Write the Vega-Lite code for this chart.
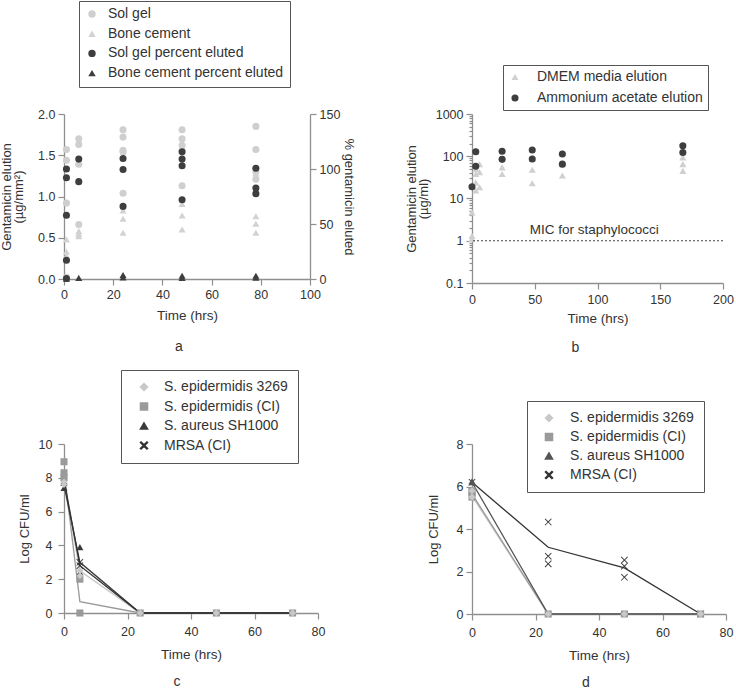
{
  "$schema": "https://vega.github.io/schema/vega-lite/v6.json",
  "background": "white",
  "padding": {"left": 0, "top": 0, "right": 15, "bottom": 60},
  "config": {
    "font": "Liberation Sans",
    "view": {"stroke": null},
    "axis": {
      "grid": false,
      "domainColor": "#8f8f8f",
      "tickColor": "#8f8f8f",
      "domainWidth": 1.3,
      "tickWidth": 1.2,
      "tickSize": 6,
      "labelFontSize": 12.5,
      "labelColor": "#333333",
      "labelPadding": 3,
      "labelFlush": false,
      "labelOverlap": false,
      "titleFontSize": 13.5,
      "titleFontWeight": "normal",
      "titleColor": "#333333",
      "titleLineHeight": 12
    },
    "legend": {
      "labelFontSize": 14,
      "labelColor": "#333333",
      "strokeColor": "#555555",
      "fillColor": "white",
      "rowPadding": 5.5,
      "labelLimit": 300
    },
    "title": {"fontSize": 14, "fontWeight": "normal", "color": "#333333"}
  },
  "datasets": {
    "aLeft": [
      {"t": 1, "v": 1.57, "s": "Sol gel"}, {"t": 1, "v": 1.44, "s": "Sol gel"}, {"t": 1, "v": 0.92, "s": "Sol gel"}, {"t": 1, "v": 0.02, "s": "Sol gel"},
      {"t": 6, "v": 1.70, "s": "Sol gel"}, {"t": 6, "v": 1.63, "s": "Sol gel"}, {"t": 6, "v": 1.39, "s": "Sol gel"}, {"t": 6, "v": 0.66, "s": "Sol gel"},
      {"t": 24, "v": 1.81, "s": "Sol gel"}, {"t": 24, "v": 1.72, "s": "Sol gel"}, {"t": 24, "v": 1.56, "s": "Sol gel"}, {"t": 24, "v": 1.54, "s": "Sol gel"}, {"t": 24, "v": 1.04, "s": "Sol gel"},
      {"t": 48, "v": 1.81, "s": "Sol gel"}, {"t": 48, "v": 1.70, "s": "Sol gel"}, {"t": 48, "v": 1.62, "s": "Sol gel"}, {"t": 48, "v": 1.13, "s": "Sol gel"},
      {"t": 78, "v": 1.85, "s": "Sol gel"}, {"t": 78, "v": 1.57, "s": "Sol gel"}, {"t": 78, "v": 1.30, "s": "Sol gel"}, {"t": 78, "v": 1.21, "s": "Sol gel"},
      {"t": 1, "v": 0.48, "s": "Bone cement"}, {"t": 1, "v": 0.33, "s": "Bone cement"}, {"t": 1, "v": 0.28, "s": "Bone cement"}, {"t": 1, "v": 0.02, "s": "Bone cement"},
      {"t": 6, "v": 0.58, "s": "Bone cement"}, {"t": 6, "v": 0.55, "s": "Bone cement"}, {"t": 6, "v": 0.52, "s": "Bone cement"},
      {"t": 24, "v": 0.83, "s": "Bone cement"}, {"t": 24, "v": 0.73, "s": "Bone cement"}, {"t": 24, "v": 0.56, "s": "Bone cement"},
      {"t": 48, "v": 1.60, "s": "Bone cement"}, {"t": 48, "v": 0.91, "s": "Bone cement"}, {"t": 48, "v": 0.77, "s": "Bone cement"}, {"t": 48, "v": 0.60, "s": "Bone cement"},
      {"t": 78, "v": 1.28, "s": "Bone cement"}, {"t": 78, "v": 0.76, "s": "Bone cement"}, {"t": 78, "v": 0.67, "s": "Bone cement"}, {"t": 78, "v": 0.56, "s": "Bone cement"}
    ],
    "aRight": [
      {"t": 1, "v": 100, "s": "Sol gel percent eluted"}, {"t": 1, "v": 92, "s": "Sol gel percent eluted"}, {"t": 1, "v": 58, "s": "Sol gel percent eluted"}, {"t": 1, "v": 17, "s": "Sol gel percent eluted"}, {"t": 1, "v": 0.5, "s": "Sol gel percent eluted"},
      {"t": 6, "v": 109, "s": "Sol gel percent eluted"}, {"t": 6, "v": 88.5, "s": "Sol gel percent eluted"},
      {"t": 24, "v": 109.5, "s": "Sol gel percent eluted"}, {"t": 24, "v": 99.5, "s": "Sol gel percent eluted"}, {"t": 24, "v": 66, "s": "Sol gel percent eluted"},
      {"t": 48, "v": 115.6, "s": "Sol gel percent eluted"}, {"t": 48, "v": 109, "s": "Sol gel percent eluted"}, {"t": 48, "v": 103, "s": "Sol gel percent eluted"}, {"t": 48, "v": 72, "s": "Sol gel percent eluted"},
      {"t": 78, "v": 100.7, "s": "Sol gel percent eluted"}, {"t": 78, "v": 82.7, "s": "Sol gel percent eluted"}, {"t": 78, "v": 77.6, "s": "Sol gel percent eluted"},
      {"t": 1, "v": 0.3, "s": "Bone cement percent eluted"}, {"t": 6, "v": 1, "s": "Bone cement percent eluted"},
      {"t": 24, "v": 3.6, "s": "Bone cement percent eluted"}, {"t": 24, "v": 1.5, "s": "Bone cement percent eluted"},
      {"t": 48, "v": 3, "s": "Bone cement percent eluted"}, {"t": 48, "v": 1, "s": "Bone cement percent eluted"},
      {"t": 78, "v": 3, "s": "Bone cement percent eluted"}, {"t": 78, "v": 1.2, "s": "Bone cement percent eluted"}
    ],
    "bPts": [
      {"t": 0, "v": 4.7, "s": "DMEM media elution"}, {"t": 0, "v": 1.3, "s": "DMEM media elution"}, {"t": 0, "v": 1.1, "s": "DMEM media elution"},
      {"t": 3, "v": 50, "s": "DMEM media elution"}, {"t": 3, "v": 38, "s": "DMEM media elution"}, {"t": 3, "v": 24, "s": "DMEM media elution"}, {"t": 3, "v": 15.6, "s": "DMEM media elution"},
      {"t": 6, "v": 65, "s": "DMEM media elution"}, {"t": 6, "v": 42, "s": "DMEM media elution"}, {"t": 6, "v": 18.5, "s": "DMEM media elution"},
      {"t": 24, "v": 54.7, "s": "DMEM media elution"}, {"t": 24, "v": 38, "s": "DMEM media elution"},
      {"t": 48, "v": 89, "s": "DMEM media elution"}, {"t": 48, "v": 48, "s": "DMEM media elution"}, {"t": 48, "v": 23, "s": "DMEM media elution"},
      {"t": 72, "v": 65, "s": "DMEM media elution"}, {"t": 72, "v": 35, "s": "DMEM media elution"},
      {"t": 168, "v": 94, "s": "DMEM media elution"}, {"t": 168, "v": 65, "s": "DMEM media elution"}, {"t": 168, "v": 45, "s": "DMEM media elution"},
      {"t": 0, "v": 19, "s": "Ammonium acetate elution"},
      {"t": 3, "v": 128, "s": "Ammonium acetate elution"}, {"t": 3, "v": 58, "s": "Ammonium acetate elution"},
      {"t": 24, "v": 131, "s": "Ammonium acetate elution"}, {"t": 24, "v": 84.5, "s": "Ammonium acetate elution"},
      {"t": 48, "v": 141, "s": "Ammonium acetate elution"}, {"t": 48, "v": 86, "s": "Ammonium acetate elution"},
      {"t": 72, "v": 113, "s": "Ammonium acetate elution"}, {"t": 72, "v": 65, "s": "Ammonium acetate elution"},
      {"t": 168, "v": 178, "s": "Ammonium acetate elution"}, {"t": 168, "v": 123, "s": "Ammonium acetate elution"}
    ],
    "cLines": [
      {"t": 0, "m": 7.7, "s": "S. epidermidis 3269"}, {"t": 5, "m": 2.5, "s": "S. epidermidis 3269"}, {"t": 24, "m": 0, "s": "S. epidermidis 3269"}, {"t": 48, "m": 0, "s": "S. epidermidis 3269"}, {"t": 72, "m": 0, "s": "S. epidermidis 3269"},
      {"t": 0, "m": 8.4, "s": "S. epidermidis (CI)"}, {"t": 5, "m": 0.67, "s": "S. epidermidis (CI)"}, {"t": 24, "m": 0, "s": "S. epidermidis (CI)"}, {"t": 48, "m": 0, "s": "S. epidermidis (CI)"}, {"t": 72, "m": 0, "s": "S. epidermidis (CI)"},
      {"t": 0, "m": 7.6, "s": "S. aureus SH1000"}, {"t": 5, "m": 3.0, "s": "S. aureus SH1000"}, {"t": 24, "m": 0, "s": "S. aureus SH1000"}, {"t": 48, "m": 0, "s": "S. aureus SH1000"}, {"t": 72, "m": 0, "s": "S. aureus SH1000"},
      {"t": 0, "m": 7.9, "s": "MRSA (CI)"}, {"t": 5, "m": 2.8, "s": "MRSA (CI)"}, {"t": 24, "m": 0, "s": "MRSA (CI)"}, {"t": 48, "m": 0, "s": "MRSA (CI)"}, {"t": 72, "m": 0, "s": "MRSA (CI)"}
    ],
    "cPts": [
      {"t": 0, "v": 7.8, "s": "MRSA (CI)"}, {"t": 5, "v": 3.0, "s": "MRSA (CI)"}, {"t": 5, "v": 2.8, "s": "MRSA (CI)"},
      {"t": 0, "v": 7.4, "s": "S. aureus SH1000"}, {"t": 0, "v": 7.7, "s": "S. aureus SH1000"}, {"t": 5, "v": 3.9, "s": "S. aureus SH1000"}, {"t": 5, "v": 2.4, "s": "S. aureus SH1000"},
      {"t": 0, "v": 8.95, "s": "S. epidermidis (CI)"}, {"t": 0, "v": 8.3, "s": "S. epidermidis (CI)"}, {"t": 0, "v": 8.0, "s": "S. epidermidis (CI)"}, {"t": 5, "v": 2.0, "s": "S. epidermidis (CI)"}, {"t": 5, "v": 0, "s": "S. epidermidis (CI)"}, {"t": 24, "v": 0, "s": "S. epidermidis (CI)"}, {"t": 48, "v": 0, "s": "S. epidermidis (CI)"}, {"t": 72, "v": 0, "s": "S. epidermidis (CI)"},
      {"t": 0, "v": 7.6, "s": "S. epidermidis 3269"}, {"t": 0, "v": 7.75, "s": "S. epidermidis 3269"}, {"t": 5, "v": 2.5, "s": "S. epidermidis 3269"}, {"t": 5, "v": 2.2, "s": "S. epidermidis 3269"}, {"t": 24, "v": 0, "s": "S. epidermidis 3269"}, {"t": 48, "v": 0, "s": "S. epidermidis 3269"}, {"t": 72, "v": 0, "s": "S. epidermidis 3269"}
    ],
    "dLines": [
      {"t": 0, "m": 5.55, "s": "S. epidermidis 3269"}, {"t": 24, "m": 0, "s": "S. epidermidis 3269"}, {"t": 48, "m": 0, "s": "S. epidermidis 3269"}, {"t": 72, "m": 0, "s": "S. epidermidis 3269"},
      {"t": 0, "m": 5.65, "s": "S. epidermidis (CI)"}, {"t": 24, "m": 0, "s": "S. epidermidis (CI)"}, {"t": 48, "m": 0, "s": "S. epidermidis (CI)"}, {"t": 72, "m": 0, "s": "S. epidermidis (CI)"},
      {"t": 0, "m": 6.2, "s": "S. aureus SH1000"}, {"t": 24, "m": 0, "s": "S. aureus SH1000"}, {"t": 48, "m": 0, "s": "S. aureus SH1000"}, {"t": 72, "m": 0, "s": "S. aureus SH1000"},
      {"t": 0, "m": 6.2, "s": "MRSA (CI)"}, {"t": 24, "m": 3.14, "s": "MRSA (CI)"}, {"t": 48, "m": 2.17, "s": "MRSA (CI)"}, {"t": 72, "m": 0, "s": "MRSA (CI)"}
    ],
    "dPts": [
      {"t": 0, "v": 6.2, "s": "MRSA (CI)"}, {"t": 24, "v": 4.33, "s": "MRSA (CI)"}, {"t": 24, "v": 2.72, "s": "MRSA (CI)"}, {"t": 24, "v": 2.36, "s": "MRSA (CI)"}, {"t": 48, "v": 2.54, "s": "MRSA (CI)"}, {"t": 48, "v": 2.25, "s": "MRSA (CI)"}, {"t": 48, "v": 1.73, "s": "MRSA (CI)"}, {"t": 72, "v": 0, "s": "MRSA (CI)"},
      {"t": 0, "v": 6.2, "s": "S. aureus SH1000"}, {"t": 0, "v": 6.25, "s": "S. aureus SH1000"},
      {"t": 0, "v": 5.7, "s": "S. epidermidis (CI)"}, {"t": 0, "v": 5.5, "s": "S. epidermidis (CI)"}, {"t": 0, "v": 5.8, "s": "S. epidermidis (CI)"}, {"t": 24, "v": 0, "s": "S. epidermidis (CI)"}, {"t": 48, "v": 0, "s": "S. epidermidis (CI)"}, {"t": 72, "v": 0, "s": "S. epidermidis (CI)"},
      {"t": 0, "v": 5.5, "s": "S. epidermidis 3269"}, {"t": 0, "v": 5.8, "s": "S. epidermidis 3269"}, {"t": 24, "v": 0, "s": "S. epidermidis 3269"}, {"t": 48, "v": 0, "s": "S. epidermidis 3269"}, {"t": 72, "v": 0, "s": "S. epidermidis 3269"}
    ]
  },
  "bounds": "flush",
  "columns": 2,
  "spacing": {"row": 161, "column": 154},
  "resolve": {
    "scale": {"color": "independent", "shape": "independent", "x": "independent", "y": "independent"},
    "legend": {"color": "independent", "shape": "independent"}
  },
  "concat": [
    {
      "width": 246,
      "height": 165,
      "title": {"text": "a", "orient": "bottom", "offset": 18, "dx": -8},
      "layer": [
        {
          "data": {"name": "aLeft"},
          "mark": {"type": "point", "filled": true, "opacity": 1, "size": 50},
          "encoding": {
            "x": {"field": "t", "type": "quantitative", "scale": {"domain": [0, 100], "nice": false},
                  "axis": {"values": [0, 20, 40, 60, 80, 100], "title": "Time (hrs)", "labelPadding": 3, "titlePadding": 8}},
            "y": {"field": "v", "type": "quantitative", "scale": {"domain": [0, 2], "nice": false},
                  "axis": {"values": [0, 0.5, 1, 1.5, 2], "format": ".1f", "title": ["Gentamicin elution", "(µg/mm²)"], "titleFontSize": 13, "titlePadding": 12}},
            "color": {"field": "s", "type": "nominal",
                      "scale": {"domain": ["Sol gel", "Bone cement", "Sol gel percent eluted", "Bone cement percent eluted"], "range": ["#cfcfcf", "#d2d2d2", "#3e3e3e", "#3e3e3e"]},
                      "legend": {"title": null, "orient": "none", "legendX": 15, "legendY": -113, "padding": 6, "symbolSize": 55, "labelOffset": 9, "rowPadding": 5.7}},
            "shape": {"field": "s", "type": "nominal",
                      "scale": {"domain": ["Sol gel", "Bone cement", "Sol gel percent eluted", "Bone cement percent eluted"], "range": ["circle", "triangle-up", "circle", "triangle-up"]},
                      "legend": {"title": null, "orient": "none", "legendX": 15, "legendY": -113, "padding": 6, "symbolSize": 55, "labelOffset": 9, "rowPadding": 5.7}}
          }
        },
        {
          "data": {"name": "aRight"},
          "mark": {"type": "point", "filled": true, "opacity": 1, "size": 50},
          "encoding": {
            "x": {"field": "t", "type": "quantitative", "scale": {"domain": [0, 100], "nice": false}},
            "y": {"field": "v", "type": "quantitative", "scale": {"domain": [0, 150], "nice": false},
                  "axis": {"orient": "right", "values": [0, 50, 100, 150], "title": "% gentamicin eluted", "titleFontSize": 13, "titlePadding": 2}},
            "color": {"field": "s", "type": "nominal"},
            "shape": {"field": "s", "type": "nominal"}
          }
        }
      ],
      "resolve": {"scale": {"y": "independent"}}
    },
    {
      "width": 251,
      "height": 169,
      "title": {"text": "b", "orient": "bottom", "offset": 16, "dx": -22},
      "layer": [
        {
          "data": {"name": "bPts"},
          "mark": {"type": "point", "filled": true, "opacity": 1, "size": 50},
          "encoding": {
            "x": {"field": "t", "type": "quantitative", "scale": {"domain": [0, 200], "nice": false},
                  "axis": {"values": [0, 50, 100, 150, 200], "title": "Time (hrs)", "labelPadding": 4, "titlePadding": 6}},
            "y": {"field": "v", "type": "quantitative", "scale": {"type": "log", "domain": [0.1, 1000], "nice": false},
                  "axis": {"values": [0.1, 0.2, 0.3, 0.4, 0.5, 0.6, 0.7, 0.8, 0.9, 1, 2, 3, 4, 5, 6, 7, 8, 9, 10, 20, 30, 40, 50, 60, 70, 80, 90, 100, 200, 300, 400, 500, 600, 700, 800, 900, 1000],
                           "labelExpr": "indexof([0.1, 1, 10, 100, 1000], datum.value) >= 0 ? (datum.value == 0.1 ? '0.1' : format(datum.value, 'd')) : ''",
                           "tickSize": {"condition": {"test": "indexof([0.1, 1, 10, 100, 1000], datum.value) >= 0", "value": 6}, "value": 3},
                           "title": ["Gentamicin elution", "(µg/ml)"], "titleFontSize": 13, "titlePadding": 5}},
            "color": {"field": "s", "type": "nominal",
                      "scale": {"domain": ["DMEM media elution", "Ammonium acetate elution"], "range": ["#d0d0d0", "#3e3e3e"]},
                      "legend": {"title": null, "orient": "none", "legendX": 31, "legendY": -49, "padding": 5, "symbolSize": 50, "labelOffset": 15, "rowPadding": 7}},
            "shape": {"field": "s", "type": "nominal",
                      "scale": {"domain": ["DMEM media elution", "Ammonium acetate elution"], "range": ["triangle-up", "circle"]},
                      "legend": {"title": null, "orient": "none", "legendX": 31, "legendY": -49, "padding": 5, "symbolSize": 50, "labelOffset": 15, "rowPadding": 7}}
          }
        },
        {
          "data": {"values": [{"mic": 1}]},
          "mark": {"type": "rule", "strokeDash": [2, 2], "color": "#444444", "strokeWidth": 1},
          "encoding": {"y": {"field": "mic", "type": "quantitative", "scale": {"type": "log"}}}
        },
        {
          "data": {"values": [{"mic": 1, "label": "MIC for staphylococci"}]},
          "mark": {"type": "text", "align": "left", "baseline": "bottom", "fontSize": 13.5, "color": "#333333", "dy": -4},
          "encoding": {
            "x": {"datum": 46, "type": "quantitative"},
            "y": {"field": "mic", "type": "quantitative", "scale": {"type": "log"}},
            "text": {"field": "label"}
          }
        }
      ]
    },
    {
      "width": 254,
      "height": 169,
      "title": {"text": "c", "orient": "bottom", "offset": 14, "dx": -14},
      "layer": [
        {
          "data": {"name": "cLines"},
          "mark": {"type": "line", "strokeWidth": 1.3},
          "encoding": {
            "x": {"field": "t", "type": "quantitative", "scale": {"domain": [0, 80], "nice": false},
                  "axis": {"values": [0, 20, 40, 60, 80], "title": "Time (hrs)", "labelPadding": 6, "titlePadding": 10}},
            "y": {"field": "m", "type": "quantitative", "scale": {"domain": [0, 10], "nice": false},
                  "axis": {"values": [0, 2, 4, 6, 8, 10], "tickCount": 6, "labelOverlap": false, "title": "Log CFU/ml", "titleFontSize": 13, "labelPadding": 6, "titlePadding": 7}},
            "color": {"field": "s", "type": "nominal",
                      "scale": {"domain": ["S. epidermidis 3269", "S. epidermidis (CI)", "S. aureus SH1000", "MRSA (CI)"], "range": ["#c8c8c8", "#9a9a9a", "#3a3a3a", "#333333"]},
                      "legend": {"title": null, "orient": "none", "legendX": 57, "legendY": -74, "padding": 10, "symbolSize": 50, "symbolOffset": 6, "labelOffset": 13, "rowPadding": 5.5}}
          }
        },
        {
          "data": {"name": "cPts"},
          "mark": {"type": "point", "filled": true, "opacity": 1, "size": 50},
          "encoding": {
            "x": {"field": "t", "type": "quantitative"},
            "y": {"field": "v", "type": "quantitative",
                  "axis": {"values": [0, 2, 4, 6, 8, 10], "tickCount": 6, "labelOverlap": false, "title": "Log CFU/ml", "titleFontSize": 13, "labelPadding": 6, "titlePadding": 7}},
            "color": {"field": "s", "type": "nominal"},
            "shape": {"field": "s", "type": "nominal",
                      "scale": {"domain": ["S. epidermidis 3269", "S. epidermidis (CI)", "S. aureus SH1000", "MRSA (CI)"],
                                "range": ["diamond", "square", "triangle-up", "M-1,-0.82L-0.82,-1L0,-0.18L0.82,-1L1,-0.82L0.18,0L1,0.82L0.82,1L0,0.18L-0.82,1L-1,0.82L-0.18,0Z"]},
                      "legend": {"title": null, "orient": "none", "legendX": 57, "legendY": -74, "padding": 10, "symbolSize": 50, "symbolOffset": 6, "labelOffset": 13, "rowPadding": 5.5}}
          }
        }
      ]
    },
    {
      "width": 254,
      "height": 170,
      "title": {"text": "d", "orient": "bottom", "offset": 14, "dx": -13},
      "layer": [
        {
          "data": {"name": "dLines"},
          "mark": {"type": "line", "strokeWidth": 1.3},
          "encoding": {
            "x": {"field": "t", "type": "quantitative", "scale": {"domain": [0, 80], "nice": false},
                  "axis": {"values": [0, 20, 40, 60, 80], "title": "Time (hrs)", "labelPadding": 6, "titlePadding": 10}},
            "y": {"field": "m", "type": "quantitative", "scale": {"domain": [0, 8], "nice": false},
                  "axis": {"values": [0, 2, 4, 6, 8], "title": "Log CFU/ml", "titleFontSize": 13, "labelPadding": 3, "titlePadding": 16}},
            "color": {"field": "s", "type": "nominal",
                      "scale": {"domain": ["S. epidermidis 3269", "S. epidermidis (CI)", "S. aureus SH1000", "MRSA (CI)"], "range": ["#c8c8c8", "#9a9a9a", "#555555", "#333333"]},
                      "legend": {"title": null, "orient": "none", "legendX": 55, "legendY": -43, "padding": 10, "symbolSize": 50, "symbolOffset": 5, "labelOffset": 14, "rowPadding": 5}}
          }
        },
        {
          "data": {"name": "dPts"},
          "mark": {"type": "point", "filled": true, "opacity": 1, "size": 50},
          "encoding": {
            "x": {"field": "t", "type": "quantitative"},
            "y": {"field": "v", "type": "quantitative"},
            "color": {"field": "s", "type": "nominal"},
            "shape": {"field": "s", "type": "nominal",
                      "scale": {"domain": ["S. epidermidis 3269", "S. epidermidis (CI)", "S. aureus SH1000", "MRSA (CI)"],
                                "range": ["diamond", "square", "triangle-up", "M-1,-0.82L-0.82,-1L0,-0.18L0.82,-1L1,-0.82L0.18,0L1,0.82L0.82,1L0,0.18L-0.82,1L-1,0.82L-0.18,0Z"]},
                      "legend": {"title": null, "orient": "none", "legendX": 55, "legendY": -43, "padding": 10, "symbolSize": 50, "symbolOffset": 5, "labelOffset": 14, "rowPadding": 5}}
          }
        }
      ]
    }
  ]
}
